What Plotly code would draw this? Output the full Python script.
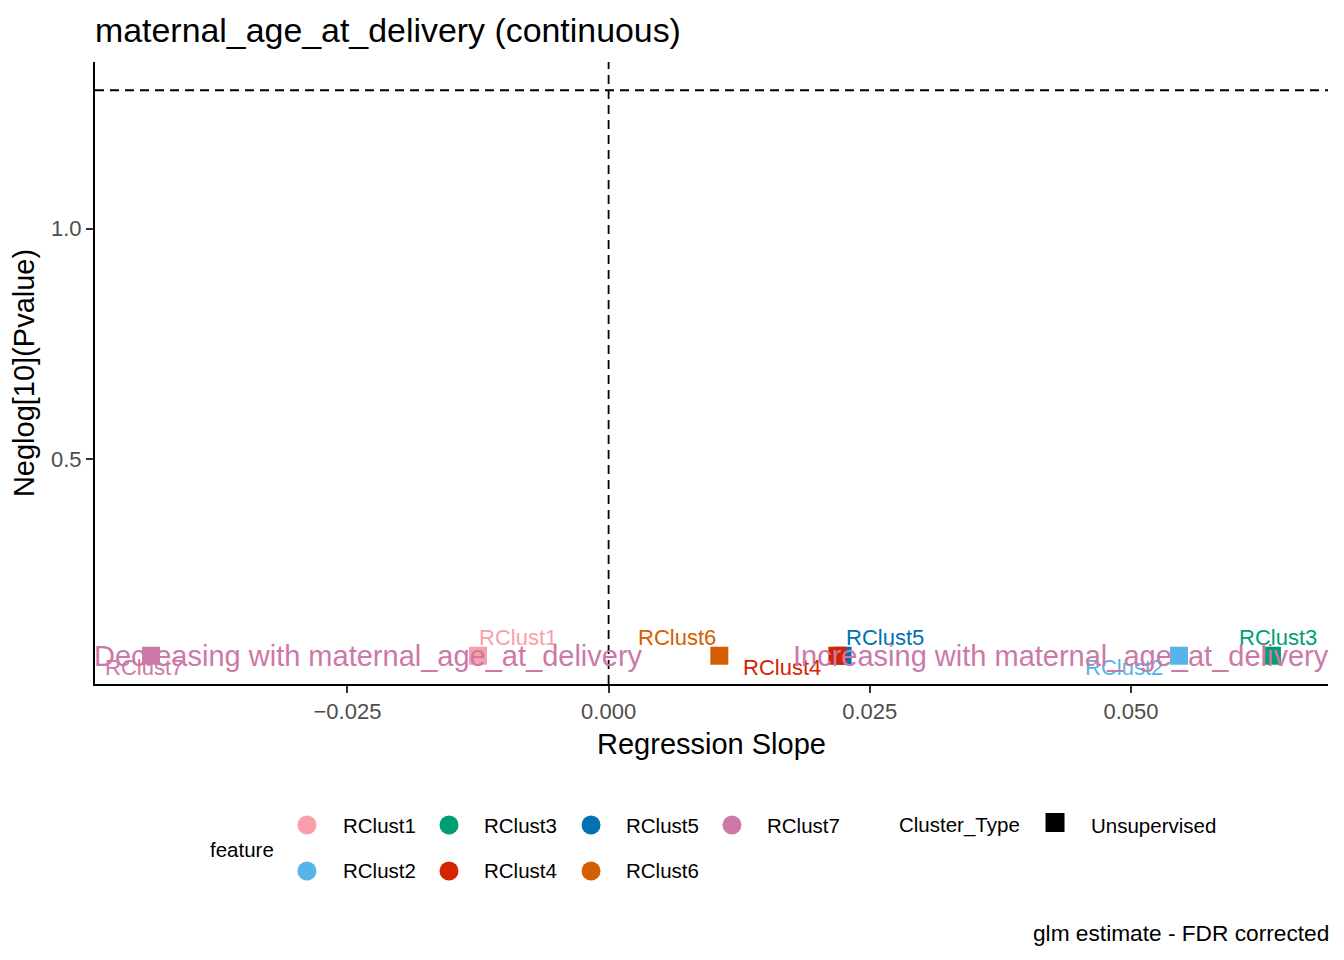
import numpy as np
import plotly.graph_objects as go

# data
features = ["RClust1", "RClust2", "RClust3", "RClust4", "RClust5", "RClust6", "RClust7"]
slope = [-0.0125, 0.0546, 0.0635, 0.0219, 0.0224, 0.0106, -0.0438]
neglog_p = [0.072, 0.072, 0.072, 0.072, 0.072, 0.072, 0.072]
colors = ["#FA9FA9", "#56B4E9", "#009E73", "#D42300", "#0072B2", "#D55E00", "#CC79A7"]
p_cut = 0.05

# ggrepel-ish label offsets (px)
label_shift = {
    "RClust1": (40, 18), "RClust2": (-55, -12), "RClust3": (6, 18),
    "RClust4": (-55, -12), "RClust5": (42, 18), "RClust6": (-42, 18),
    "RClust7": (-7, -12),
}

FONT = "Liberation Sans, Arial, sans-serif"
thresh = -np.log10(p_cut)

# ggplot style 5% expansion
xs = slope + [0]
xlo, xhi = min(xs), max(xs)
xpad = (xhi - xlo) * 0.05
ys = neglog_p + [thresh]
ylo, yhi = min(ys), max(ys)
ypad = (yhi - ylo) * 0.05

fig = go.Figure()

# draw order so RClust4 sits over RClust5
order = ["RClust1", "RClust2", "RClust3", "RClust5", "RClust4", "RClust6", "RClust7"]
for f in order:
    i = features.index(f)
    fig.add_trace(go.Scatter(
        x=[slope[i]], y=[neglog_p[i]], mode="markers",
        marker=dict(symbol="square", size=18, color=colors[i], line=dict(width=0)),
        name=f, showlegend=False, hoverinfo="x+y+name",
    ))

annotations = []
for i, f in enumerate(features):
    dx, dy = label_shift[f]
    annotations.append(dict(
        x=slope[i], y=neglog_p[i], xref="x", yref="y", text=f, showarrow=False,
        xshift=dx, yshift=dy, font=dict(family=FONT, size=22, color=colors[i]),
    ))

arrow_col = "#CC79A7"
annotations.append(dict(
    x=0, xref="paper", y=neglog_p[0], yref="y", xanchor="left", yanchor="middle",
    text="Decreasing with maternal_age_at_delivery", showarrow=False, xshift=-3,
    font=dict(family=FONT, size=29, color=arrow_col),
))
annotations.append(dict(
    x=1, xref="paper", y=neglog_p[0], yref="y", xanchor="right", yanchor="middle",
    text="Increasing with maternal_age_at_delivery", showarrow=False, xshift=3,
    font=dict(family=FONT, size=29, color=arrow_col),
))

# manual legend (ggplot bottom legend, two rows, column-major)
shapes = [
    dict(type="line", xref="x", yref="paper", x0=0, x1=0, y0=0, y1=1,
         line=dict(color="black", width=1.8, dash="9px,6px")),
    dict(type="line", xref="paper", yref="y", x0=0, x1=1, y0=thresh, y1=thresh,
         line=dict(color="black", width=1.8, dash="9px,6px")),
]

leg_font = dict(family=FONT, size=20.5, color="black")
row_y = [-0.2267, -0.3006]
key_x = [0.1719, 0.2871, 0.4023, 0.5166]
lab_x = [0.1995, 0.3139, 0.4290, 0.5434]
annotations.append(dict(x=0.0917, y=-0.2653, xref="paper", yref="paper",
                        xanchor="left", yanchor="middle", text="feature",
                        showarrow=False, font=leg_font))
for i, f in enumerate(features):
    col, row = i // 2, i % 2
    shapes.append(dict(type="circle", xref="paper", yref="paper",
                       xsizemode="pixel", ysizemode="pixel",
                       xanchor=key_x[col], yanchor=row_y[row],
                       x0=-9.5, x1=9.5, y0=-9.5, y1=9.5,
                       fillcolor=colors[i], line=dict(width=0)))
    annotations.append(dict(x=lab_x[col], y=row_y[row], xref="paper", yref="paper",
                            xanchor="left", yanchor="middle", text=f,
                            showarrow=False, font=leg_font))

annotations.append(dict(x=0.6504, y=row_y[0], xref="paper", yref="paper",
                        xanchor="left", yanchor="middle", text="Cluster_Type",
                        showarrow=False, font=leg_font))
shapes.append(dict(type="rect", xref="paper", yref="paper",
                   xsizemode="pixel", ysizemode="pixel",
                   xanchor=0.7786, yanchor=row_y[0] + 0.004,
                   x0=-9.5, x1=9.5, y0=-9.5, y1=9.5,
                   fillcolor="black", line=dict(width=0)))
annotations.append(dict(x=0.8062, y=row_y[0], xref="paper", yref="paper",
                        xanchor="left", yanchor="middle", text="Unsupervised",
                        showarrow=False, font=leg_font))

annotations.append(dict(x=1, y=-0.4003, xref="paper", yref="paper",
                        xanchor="right", yanchor="middle", xshift=3,
                        text="glm estimate - FDR corrected",
                        showarrow=False, font=dict(family=FONT, size=22.7, color="black")))

axis_common = dict(
    showgrid=False, zeroline=False, showline=True, linecolor="black", linewidth=2,
    ticks="outside", ticklen=7, tickwidth=2, tickcolor="#333333",
    tickfont=dict(family=FONT, size=22, color="#4D4D4D"),
)

# the page puts the figure 8px in from the top-left, so width/height and l/t are trimmed by 8
fig.update_layout(
    width=1336, height=952,
    paper_bgcolor="white", plot_bgcolor="white",
    margin=dict(l=87, r=16, t=54, b=276),
    title=dict(text="maternal_age_at_delivery (continuous)", x=0, xref="paper",
               xanchor="left", y=1 - 22 / 952, yref="container", yanchor="middle",
               font=dict(family=FONT, size=33.9, color="black")),
    xaxis=dict(axis_common, range=[xlo - xpad, xhi + xpad],
               tickvals=[-0.025, 0, 0.025, 0.05],
               ticktext=["\u22120.025", "0.000", "0.025", "0.050"],
               title=dict(text="Regression Slope", standoff=10,
                          font=dict(family=FONT, size=29, color="black"))),
    yaxis=dict(axis_common, range=[ylo - ypad, yhi + ypad],
               tickvals=[0.5, 1.0], ticktext=["0.5", "1.0"],
               title=dict(text="Neglog[10](Pvalue)", standoff=10,
                          font=dict(family=FONT, size=29, color="black"))),
    shapes=shapes,
    annotations=annotations,
    showlegend=False,
)

fig.write_html("out.html")
